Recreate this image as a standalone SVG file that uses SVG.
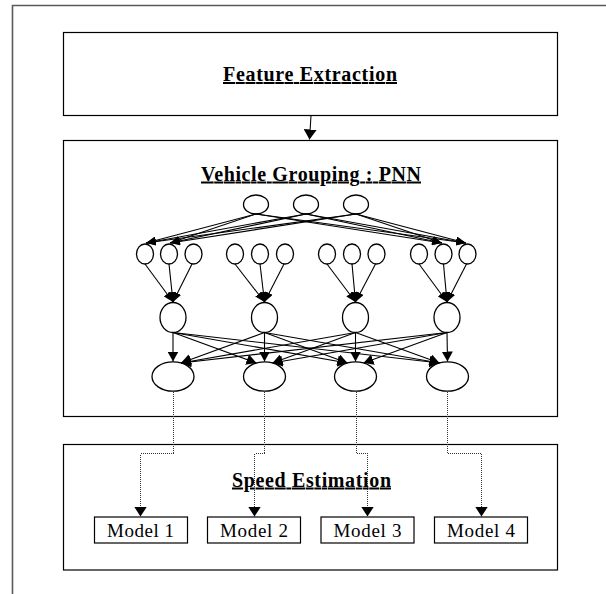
<svg xmlns="http://www.w3.org/2000/svg" width="606" height="594" viewBox="0 0 606 594">
<style>
.box{fill:#fff;stroke:#000;stroke-width:1.2}
.nd{fill:#fff;stroke:#000;stroke-width:1.3}
.hd{font-family:"Liberation Serif","Times New Roman",serif;font-weight:bold;font-size:20px;text-decoration:underline;fill:#000}
.ml{font-family:"Liberation Serif","Times New Roman",serif;font-size:19px;fill:#000}
.cn{fill:none;stroke:#000;stroke-width:1.1}
.dt{fill:none;stroke:#333;stroke-width:1;stroke-dasharray:1 1;shape-rendering:crispEdges}
</style>
<defs>
<marker id="ah" markerUnits="userSpaceOnUse" markerWidth="10" markerHeight="13" refX="10" refY="6.5" orient="auto"><path d="M0,0 L10,6.5 L0,13 z" fill="#000"/></marker>
<marker id="am" markerUnits="userSpaceOnUse" markerWidth="10" markerHeight="11" refX="10" refY="5.5" orient="auto"><path d="M0,0 L10,5.5 L0,11 z" fill="#000"/></marker>
<marker id="as" markerUnits="userSpaceOnUse" markerWidth="10" markerHeight="8" refX="10" refY="4" orient="auto"><path d="M0,0 L10,4 L0,8 z" fill="#000"/></marker>
</defs>
<rect width="606" height="594" fill="#fff"/>
<path d="M12.5,594 V5.5 H606" fill="none" stroke="#5a5a5a" stroke-width="1.6"/>

<g id="feature-extraction">
<rect class="box" x="63.5" y="32.5" width="494" height="83"/>
<text class="hd" x="310" y="81" text-anchor="middle" textLength="174" lengthAdjust="spacing">Feature Extraction</text>
</g>

<g id="vehicle-grouping">
<rect class="box" x="63.5" y="140.5" width="494" height="276" stroke="#222"/>
<text class="hd" x="311" y="180.5" text-anchor="middle" textLength="220" lengthAdjust="spacing">Vehicle Grouping : PNN</text>
</g>

<g id="speed-estimation">
<rect class="box" x="63.5" y="444.5" width="494" height="125.5" stroke="#222"/>
<text class="hd" x="311.5" y="486.5" text-anchor="middle" textLength="159" lengthAdjust="spacing">Speed Estimation</text>
</g>

<g id="input-1"><ellipse class="nd" cx="256" cy="204.5" rx="12.5" ry="9.5"/></g>
<g id="input-2"><ellipse class="nd" cx="306" cy="204.5" rx="12.5" ry="9.5"/></g>
<g id="input-3"><ellipse class="nd" cx="356" cy="204.5" rx="12.5" ry="9.5"/></g>

<g id="pattern-1"><ellipse class="nd" cx="145" cy="254" rx="8.5" ry="10"/></g>
<g id="pattern-2"><ellipse class="nd" cx="169" cy="254" rx="8.5" ry="10"/></g>
<g id="pattern-3"><ellipse class="nd" cx="193.5" cy="254" rx="8.5" ry="10"/></g>
<g id="pattern-4"><ellipse class="nd" cx="235" cy="254" rx="8.5" ry="10"/></g>
<g id="pattern-5"><ellipse class="nd" cx="260" cy="254" rx="8.5" ry="10"/></g>
<g id="pattern-6"><ellipse class="nd" cx="285" cy="254" rx="8.5" ry="10"/></g>
<g id="pattern-7"><ellipse class="nd" cx="327" cy="254" rx="8.5" ry="10"/></g>
<g id="pattern-8"><ellipse class="nd" cx="352" cy="254" rx="8.5" ry="10"/></g>
<g id="pattern-9"><ellipse class="nd" cx="376.5" cy="254" rx="8.5" ry="10"/></g>
<g id="pattern-10"><ellipse class="nd" cx="419" cy="254" rx="8.5" ry="10"/></g>
<g id="pattern-11"><ellipse class="nd" cx="443.5" cy="254" rx="8.5" ry="10"/></g>
<g id="pattern-12"><ellipse class="nd" cx="467.5" cy="254" rx="8.5" ry="10"/></g>

<g id="summation-1"><ellipse class="nd" cx="173" cy="317.5" rx="13" ry="15"/></g>
<g id="summation-2"><ellipse class="nd" cx="264.5" cy="317.5" rx="13" ry="15"/></g>
<g id="summation-3"><ellipse class="nd" cx="355.5" cy="317.5" rx="13" ry="15"/></g>
<g id="summation-4"><ellipse class="nd" cx="447" cy="317.5" rx="13" ry="15"/></g>

<g id="output-1"><ellipse class="nd" cx="173" cy="376.5" rx="21" ry="14.7"/></g>
<g id="output-2"><ellipse class="nd" cx="264.5" cy="376.5" rx="21" ry="14.7"/></g>
<g id="output-3"><ellipse class="nd" cx="355.5" cy="376.5" rx="21" ry="14.7"/></g>
<g id="output-4"><ellipse class="nd" cx="447.5" cy="376.5" rx="21" ry="14.7"/></g>

<g id="model-1"><rect class="box" x="94.5" y="517" width="93" height="26"/><text class="ml" x="140.5" y="536.5" text-anchor="middle" textLength="67" lengthAdjust="spacing">Model 1</text></g>
<g id="model-2"><rect class="box" x="207.5" y="517" width="93" height="26"/><text class="ml" x="254" y="536.5" text-anchor="middle" textLength="68" lengthAdjust="spacing">Model 2</text></g>
<g id="model-3"><rect class="box" x="321" y="517" width="93" height="26"/><text class="ml" x="367.5" y="536.5" text-anchor="middle" textLength="68" lengthAdjust="spacing">Model 3</text></g>
<g id="model-4"><rect class="box" x="434.5" y="517" width="93" height="26"/><text class="ml" x="481" y="536.5" text-anchor="middle" textLength="68" lengthAdjust="spacing">Model 4</text></g>

<g id="connectors">
<path class="cn" d="M311,115.5 L309.5,139.5" marker-end="url(#ah)"/>

<path class="cn" d="M256,214 L146,243" marker-end="url(#as)"/>
<path class="cn" d="M256,214 L170,243" marker-end="url(#as)"/>
<path class="cn" d="M256,214 L442,243" marker-end="url(#as)"/>
<path class="cn" d="M256,214 L466,243" marker-end="url(#as)"/>
<path class="cn" d="M306,214 L146,243" marker-end="url(#as)"/>
<path class="cn" d="M306,214 L170,243" marker-end="url(#as)"/>
<path class="cn" d="M306,214 L442,243" marker-end="url(#as)"/>
<path class="cn" d="M306,214 L466,243" marker-end="url(#as)"/>
<path class="cn" d="M356,214 L146,243" marker-end="url(#as)"/>
<path class="cn" d="M356,214 L170,243" marker-end="url(#as)"/>
<path class="cn" d="M356,214 L442,243" marker-end="url(#as)"/>
<path class="cn" d="M356,214 L466,243" marker-end="url(#as)"/>

<path class="cn" d="M145,264 L173,302" marker-end="url(#as)"/>
<path class="cn" d="M169,264 L173,302" marker-end="url(#as)"/>
<path class="cn" d="M192,264 L173,302" marker-end="url(#as)"/>
<path class="cn" d="M235,264 L264.5,302" marker-end="url(#as)"/>
<path class="cn" d="M260,264 L264.5,302" marker-end="url(#as)"/>
<path class="cn" d="M284,264 L264.5,302" marker-end="url(#as)"/>
<path class="cn" d="M327,264 L355.5,302" marker-end="url(#as)"/>
<path class="cn" d="M352,264 L355.5,302" marker-end="url(#as)"/>
<path class="cn" d="M375.5,264 L355.5,302" marker-end="url(#as)"/>
<path class="cn" d="M419,264 L447,302" marker-end="url(#as)"/>
<path class="cn" d="M443.5,264 L447,302" marker-end="url(#as)"/>
<path class="cn" d="M466.5,264 L447,302" marker-end="url(#as)"/>

<path class="cn" d="M173,332.5 L173,361.5" marker-end="url(#am)"/>
<path class="cn" d="M173,332.5 L256.5,363" marker-end="url(#am)"/>
<path class="cn" d="M173,332.5 L347.5,363" marker-end="url(#am)"/>
<path class="cn" d="M173,332.5 L439.5,363" marker-end="url(#am)"/>
<path class="cn" d="M264.5,332.5 L181,363" marker-end="url(#am)"/>
<path class="cn" d="M264.5,332.5 L264.5,361.5" marker-end="url(#am)"/>
<path class="cn" d="M264.5,332.5 L347.5,363" marker-end="url(#am)"/>
<path class="cn" d="M264.5,332.5 L439.5,363" marker-end="url(#am)"/>
<path class="cn" d="M355.5,332.5 L181,363" marker-end="url(#am)"/>
<path class="cn" d="M355.5,332.5 L272.5,363" marker-end="url(#am)"/>
<path class="cn" d="M355.5,332.5 L355.5,361.5" marker-end="url(#am)"/>
<path class="cn" d="M355.5,332.5 L439.5,363" marker-end="url(#am)"/>
<path class="cn" d="M447,332.5 L181,363" marker-end="url(#am)"/>
<path class="cn" d="M447,332.5 L272.5,363" marker-end="url(#am)"/>
<path class="cn" d="M447,332.5 L363.5,363" marker-end="url(#am)"/>
<path class="cn" d="M447,332.5 L447.5,361.5" marker-end="url(#am)"/>

<path class="dt" d="M173.5,391.5 V453.5 H140.5 V516.5" marker-end="url(#ah)"/>
<path class="dt" d="M264.5,391.5 V453.5 H254.5 V516.5" marker-end="url(#ah)"/>
<path class="dt" d="M356.5,391.5 V453.5 H367.5 V516.5" marker-end="url(#ah)"/>
<path class="dt" d="M447.5,391.5 V453.5 H481.5 V516.5" marker-end="url(#ah)"/>
</g>
</svg>
